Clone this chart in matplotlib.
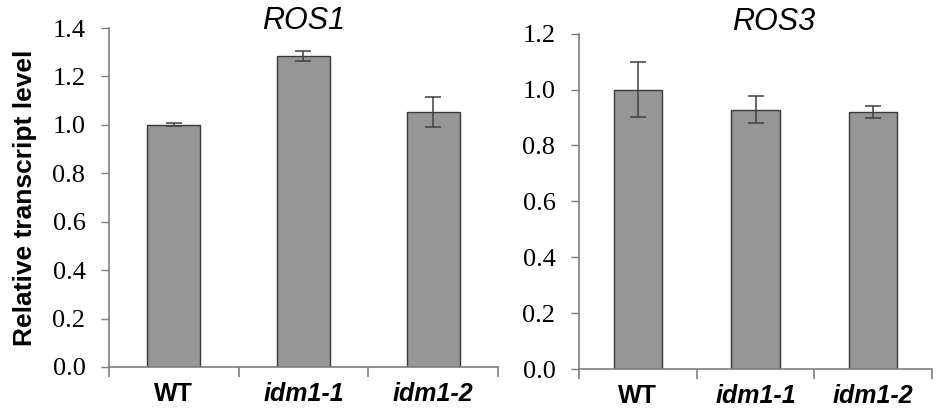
import numpy as np
import matplotlib.pyplot as plt

genotypes = ["WT", "idm1-1", "idm1-2"]
genotype_styles = ["normal", "italic", "italic"]

ros1_mean = [1.000, 1.285, 1.055]
ros1_err = [0.006, 0.022, 0.062]

ros3_mean = [1.000, 0.928, 0.920]
ros3_err = [0.097, 0.048, 0.020]

bar_color = "#969696"
edge_color = "#3a3a3a"
axis_color = "#7f7f7f"

fig = plt.figure(figsize=(9.38, 4.13), dpi=100)
ax1 = fig.add_axes([0.1162, 0.1114, 0.4147, 0.8208])
ax2 = fig.add_axes([0.6173, 0.1065, 0.3763, 0.8119])


def draw_panel(ax, means, errs, title, ymax, title_x=0.5, title_y=1.02):
    x = np.arange(len(genotypes)) + 0.5
    ax.bar(x, means, width=0.41, color=bar_color, edgecolor=edge_color, linewidth=1.0, zorder=2)
    ax.errorbar(x, means, yerr=errs, fmt="none", ecolor="#404040", elinewidth=1.1,
                capsize=6, capthick=1.1, zorder=3)
    ax.set_xlim(0, len(genotypes))
    ax.set_ylim(0, ymax)
    ticks = np.arange(0, ymax + 0.01, 0.2)
    ax.set_yticks(ticks)
    ax.set_yticklabels([f"{v:.1f}" for v in ticks], family="Liberation Serif", fontsize=19)
    # boundaries between categories get the tick marks, names sit in between
    ax.set_xticks(np.arange(len(genotypes) + 1))
    ax.set_xticklabels([])
    ax.set_xticks(x, minor=True)
    ax.set_xticklabels(genotypes, minor=True, family="Liberation Sans", fontsize=18,
                       fontweight="bold")
    for lab, st in zip(ax.get_xticklabels(minor=True), genotype_styles):
        lab.set_fontstyle(st)
    ax.tick_params(axis="x", which="major", direction="out", length=7, width=1.2,
                   color=axis_color)
    ax.tick_params(axis="x", which="minor", length=0, pad=11)
    ax.tick_params(axis="y", direction="out", length=6, width=1.0, color=axis_color, pad=11)
    for side in ["top", "right"]:
        ax.spines[side].set_visible(False)
    for side in ["left", "bottom"]:
        ax.spines[side].set_color(axis_color)
        ax.spines[side].set_linewidth(1.2)
    ax.text(title_x, title_y, title, transform=ax.transAxes, ha="center", va="center",
            family="Liberation Sans", style="italic", fontsize=22)


draw_panel(ax1, ros1_mean, ros1_err, "ROS1", 1.4, title_y=1.02)
draw_panel(ax2, ros3_mean, ros3_err, "ROS3", 1.2, title_x=0.55, title_y=1.035)
ax1.set_ylabel("Relative transcript level", family="Liberation Sans", fontweight="bold",
               fontsize=19)
ax1.yaxis.set_label_coords(-0.185, 0.5)

fig.savefig("out.png", dpi=100)
